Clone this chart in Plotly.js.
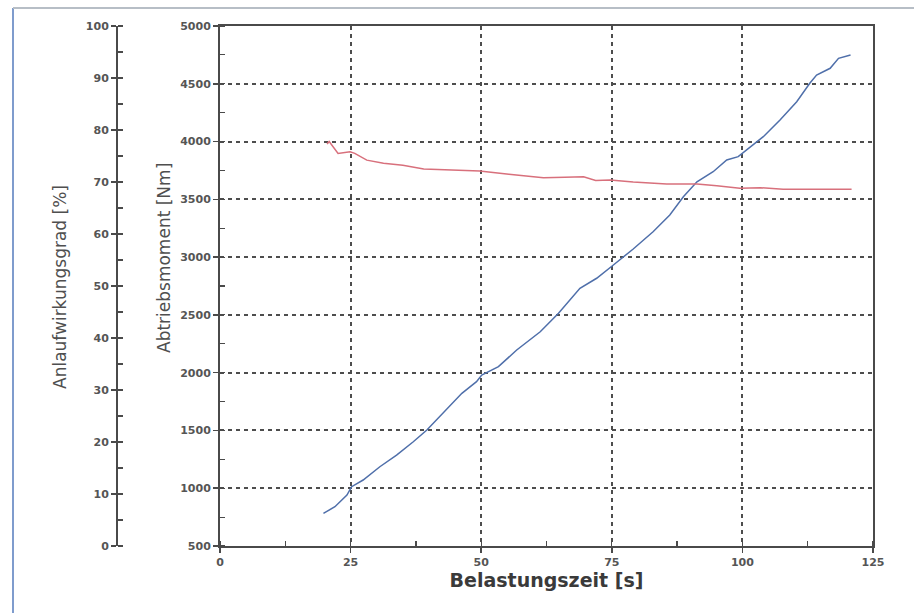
<!DOCTYPE html>
<html>
<head>
<meta charset="utf-8">
<script src="https://cdn.plot.ly/plotly-3.0.1.min.js"></script>
<style>html,body{margin:0;padding:0;background:#fff;}#chart{width:914px;height:613px;}</style>
</head>
<body>
<div id="chart"></div>
<script>
// Belastungszeit [s] vs Abtriebsmoment [Nm] (blue)
const timeTorque = [19.8, 22.0, 24.3, 25.2, 27.4, 30.6, 33.8, 37.0, 39.6, 42.7, 44.7, 46.3, 49.1, 50.1, 53.3, 56.8, 61.3, 64.8, 68.9, 72.1, 75.3, 79.1, 82.9, 86.1, 88.7, 91.3, 94.4, 97.0, 99.2, 101.5, 104.0, 107.2, 110.4, 112.9, 114.2, 116.8, 118.4, 120.7];
const torque = [783, 840, 941, 1013, 1071, 1186, 1287, 1402, 1504, 1648, 1740, 1821, 1922, 1980, 2052, 2196, 2354, 2514, 2730, 2817, 2932, 3070, 3220, 3364, 3523, 3652, 3739, 3840, 3869, 3955, 4042, 4186, 4345, 4504, 4576, 4634, 4720, 4749];
// Belastungszeit [s] vs Anlaufwirkungsgrad [%] (red)
const timeEff = [20.5, 20.9, 22.6, 24.0, 24.9, 25.8, 28.1, 31.3, 35.0, 39.0, 44.0, 49.7, 55.3, 61.9, 66.0, 69.6, 71.9, 74.7, 79.1, 85.5, 91.3, 95.1, 99.5, 103.4, 107.8, 111.0, 116.0, 120.9];
const efficiency = [77.3, 77.8, 75.5, 75.6, 75.8, 75.5, 74.2, 73.6, 73.2, 72.5, 72.3, 72.1, 71.5, 70.8, 70.9, 71.0, 70.3, 70.4, 70.0, 69.6, 69.6, 69.3, 68.8, 68.9, 68.6, 68.6, 68.5, 68.6];

const xTitle = 'Belastungszeit [s]';
const yTitle = 'Abtriebsmoment [Nm]';
const y2Title = 'Anlaufwirkungsgrad [%]';

const W = 914, H = 613;
const px = v => v / W, py = v => 1 - v / H;
const axisColor = '#4a4a4a';
const tickFont = {family: 'DejaVu Sans', size: 11, weight: 'bold', color: '#555'};
const sideTitleFont = {family: 'DejaVu Sans', size: 17, color: '#4f4f4f'};

const traces = [
  {x: timeTorque, y: torque, type: 'scatter', mode: 'lines', xaxis: 'x', yaxis: 'y',
   line: {color: '#4f6faa', width: 1.5}, hoverinfo: 'skip'},
  {x: timeEff, y: efficiency, type: 'scatter', mode: 'lines', xaxis: 'x', yaxis: 'y2',
   line: {color: '#d8707c', width: 1.5}, hoverinfo: 'skip'}
];

const xDomain = [px(220), px(873)];
const yDomain = [py(546), py(26)];
const gridStyle = {showgrid: true, gridcolor: '#4d4d4d', gridwidth: 2, griddash: '4px,4px'};

const layout = {
  width: W, height: H,
  margin: {l: 0, r: 0, t: 0, b: 0},
  paper_bgcolor: '#fff', plot_bgcolor: '#fff',
  showlegend: false,
  xaxis: Object.assign({
    domain: xDomain, range: [0, 125], tick0: 0, dtick: 25, anchor: 'y',
    showline: true, linecolor: axisColor, linewidth: 2, mirror: true,
    ticks: 'outside', ticklen: 5, tickwidth: 1.5, tickcolor: axisColor,
    minor: {dtick: 12.5, ticks: 'inside', ticklen: 5, tickwidth: 1.2, tickcolor: axisColor, showgrid: false},
    zeroline: false, tickfont: tickFont,
    title: {text: xTitle, font: {family: 'DejaVu Sans', size: 19, weight: 'bold', color: '#3a3a3a'}, standoff: 4}
  }, gridStyle),
  yaxis: Object.assign({
    domain: yDomain, range: [500, 5000], tick0: 500, dtick: 500, anchor: 'x',
    showline: true, linecolor: axisColor, linewidth: 2, mirror: true,
    ticks: 'outside', ticklen: 5, tickwidth: 1.5, tickcolor: axisColor,
    minor: {dtick: 250, ticks: 'inside', ticklen: 5, tickwidth: 1.2, tickcolor: axisColor, showgrid: false},
    zeroline: false, tickfont: tickFont
  }, gridStyle),
  yaxis2: {
    overlaying: 'y', anchor: 'free', position: px(117), side: 'left',
    range: [0, 100], tick0: 0, dtick: 10,
    showline: true, linecolor: axisColor, linewidth: 2,
    ticks: 'outside', ticklen: 5, tickwidth: 1.5, tickcolor: axisColor,
    minor: {dtick: 5, ticks: 'inside', ticklen: 5, tickwidth: 1.2, tickcolor: axisColor, showgrid: false},
    showgrid: false, zeroline: false, tickfont: tickFont
  },
  // companion axes that draw the inner half of the crossing major ticks
  xaxis2: {overlaying: 'x', anchor: 'y', range: [0, 125], tick0: 0, dtick: 25, side: 'bottom',
    ticks: 'inside', ticklen: 5, tickwidth: 1.5, tickcolor: axisColor,
    showticklabels: false, showgrid: false, showline: false, zeroline: false},
  yaxis3: {overlaying: 'y', anchor: 'x', range: [500, 5000], tick0: 500, dtick: 500, side: 'left',
    ticks: 'inside', ticklen: 5, tickwidth: 1.5, tickcolor: axisColor,
    showticklabels: false, showgrid: false, showline: false, zeroline: false},
  yaxis4: {overlaying: 'y', anchor: 'free', position: px(117), side: 'left', range: [0, 100], tick0: 0, dtick: 10,
    ticks: 'inside', ticklen: 5, tickwidth: 1.5, tickcolor: axisColor,
    showticklabels: false, showgrid: false, showline: false, zeroline: false},
  annotations: [
    {text: yTitle, textangle: -90, xref: 'paper', yref: 'paper', x: px(164), y: py(258),
     xanchor: 'center', yanchor: 'middle', showarrow: false, font: sideTitleFont},
    {text: y2Title, textangle: -90, xref: 'paper', yref: 'paper', x: px(60), y: py(287),
     xanchor: 'center', yanchor: 'middle', showarrow: false, font: sideTitleFont}
  ],
  shapes: [
    {type: 'line', xref: 'paper', yref: 'paper', x0: px(13), x1: px(13), y0: py(8), y1: 0,
     line: {color: '#7f9ccd', width: 2}},
    {type: 'line', xref: 'paper', yref: 'paper', x0: px(13), x1: 1, y0: py(8), y1: py(8),
     line: {color: '#b7bec6', width: 2}}
  ]
};

Plotly.newPlot('chart', traces, layout, {displayModeBar: false, staticPlot: true});
</script>
</body>
</html>
